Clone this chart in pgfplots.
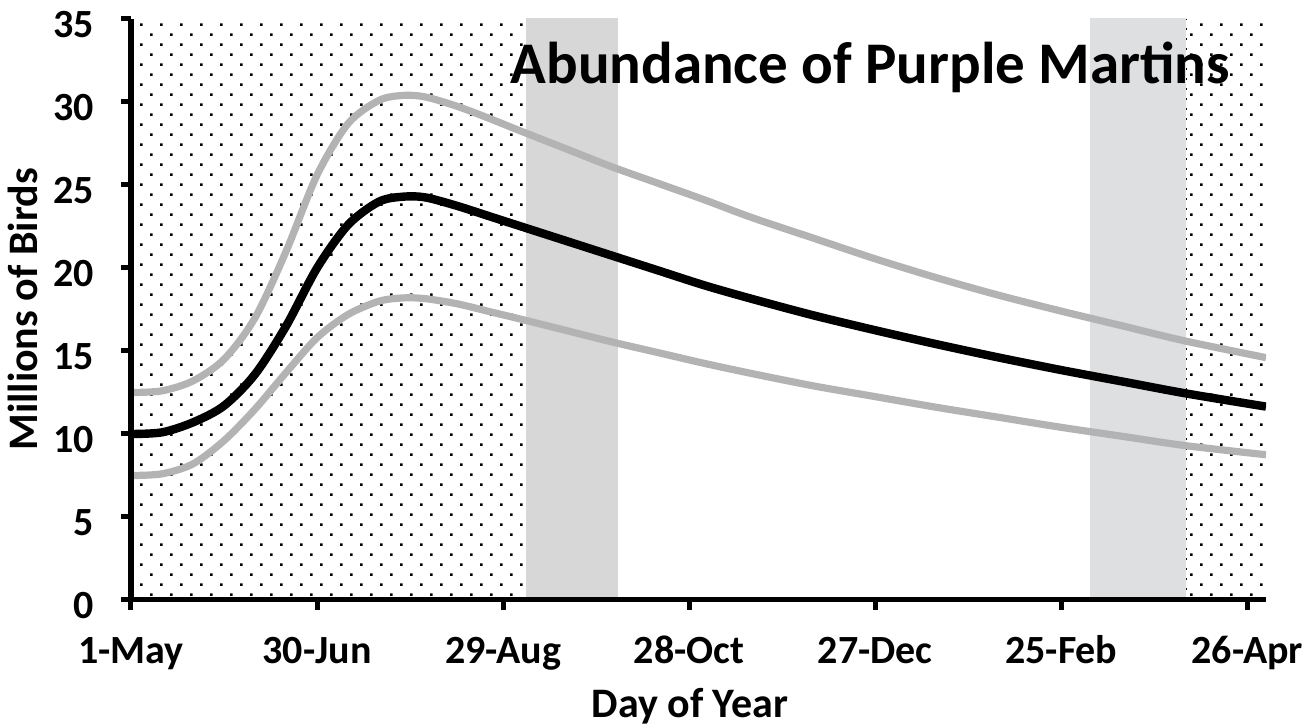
\documentclass[border=0pt]{standalone}
\usepackage{fontspec}
\setmainfont{Carlito}
\usepackage{pgfplots}
\pgfplotsset{compat=1.18}
\usetikzlibrary{patterns}
\definecolor{bandA}{HTML}{D7D7D7}
\definecolor{bandB}{HTML}{DEDFE1}
\definecolor{ci}{HTML}{B3B3B3}
\pgfdeclarepatternformonly{mydots}{\pgfpoint{-1pt}{-1pt}}{\pgfpoint{11pt}{11pt}}{\pgfpoint{10pt}{10pt}}{%
  \pgfpathrectangle{\pgfpoint{0pt}{0pt}}{\pgfpoint{1.3pt}{1.3pt}}%
  \pgfpathrectangle{\pgfpoint{5pt}{5pt}}{\pgfpoint{1.3pt}{1.3pt}}%
  \pgfusepath{fill}}
\begin{document}
\begin{tikzpicture}
\path[use as bounding box] (-65.5pt,-63pt) rectangle (589.5pt,300pt);
\begin{axis}[
  scale only axis,
  width=567.5pt, height=290.5pt,
  xmin=0, xmax=366, ymin=0, ymax=35,
  axis lines*=left,
  axis on top,
  x axis line style={line width=2.5pt},
  y axis line style={line width=3pt},
  tick align=outside,
  major tick length=5pt,
  every tick/.style={black, line width=2.5pt},
  xtick={0,60,120,180,240,300,360},
  xticklabels={1-May,30-Jun,29-Aug,28-Oct,27-Dec,25-Feb,26-Apr},
  ytick={0,5,10,15,20,25,30,35},
  /pgf/number format/assume math mode=true,
  tick label style={font=\bfseries\fontsize{20}{24}\selectfont},
  yticklabel style={anchor=east, xshift=-10pt, yshift=-3pt},
  xticklabel style={anchor=base, yshift=-27pt},
  xlabel={Day of Year},
  ylabel={Millions of Birds},
  label style={font=\bfseries\fontsize{21}{25}\selectfont},
  xlabel style={at={(axis description cs:0.4925,-0.203)}, anchor=base},
  ylabel style={at={(axis description cs:-0.082,0.5)}, anchor=base},
  clip=true,
]
% background regions
\addplot[draw=none, pattern=mydots] coordinates {(0,35) (127.4,35)} \closedcycle;
\addplot[draw=none, fill=bandA] coordinates {(127.4,35.4) (157,35.4)} \closedcycle;
\addplot[draw=none, fill=bandB] coordinates {(309.4,35.4) (340.3,35.4)} \closedcycle;
\addplot[draw=none, pattern=mydots] coordinates {(340.3,35) (366,35)} \closedcycle;
\addplot[black, line width=0.7pt, dash pattern=on 0.8pt off 4.2pt] coordinates {(340.3,0) (340.3,35)};
% upper bound
\addplot[ci, line width=3.6pt, smooth] table {
0 12.5
10 12.6
20 13.2
30 14.5
40 17.0
50 21.0
60 25.6
70 28.7
80 30.1
88 30.4
95 30.3
105 29.75
115 29.05
125 28.3
140 27.2
155 26.1
170 25.1
185 24.1
200 23.05
220 21.8
240 20.55
260 19.4
280 18.35
300 17.4
320 16.5
340 15.6
366 14.6
};
% lower bound
\addplot[ci, line width=3.6pt, smooth] table {
0 7.5
10 7.6
20 8.2
30 9.6
40 11.5
50 13.7
60 15.8
70 17.2
80 18.0
88 18.2
95 18.15
105 17.85
115 17.4
125 16.95
140 16.25
155 15.55
170 14.9
185 14.25
200 13.65
220 12.9
240 12.25
260 11.6
280 11.0
300 10.4
320 9.85
340 9.3
366 8.75
};
% mean
\addplot[black, line width=4.2pt, smooth] table {
0 10.0
10 10.1
20 10.7
30 11.7
40 13.6
50 16.5
60 20.0
70 22.6
80 24.0
88 24.3
95 24.25
105 23.75
115 23.15
125 22.55
140 21.65
155 20.75
170 19.85
185 18.95
200 18.15
220 17.15
240 16.25
260 15.4
280 14.6
300 13.85
320 13.15
340 12.45
366 11.65
};
\node[font=\bfseries\fontsize{29.5}{34}\selectfont, anchor=base] at (axis cs:238.4,31.1) {Abundance of Purple Martins};
\end{axis}
\end{tikzpicture}
\end{document}
